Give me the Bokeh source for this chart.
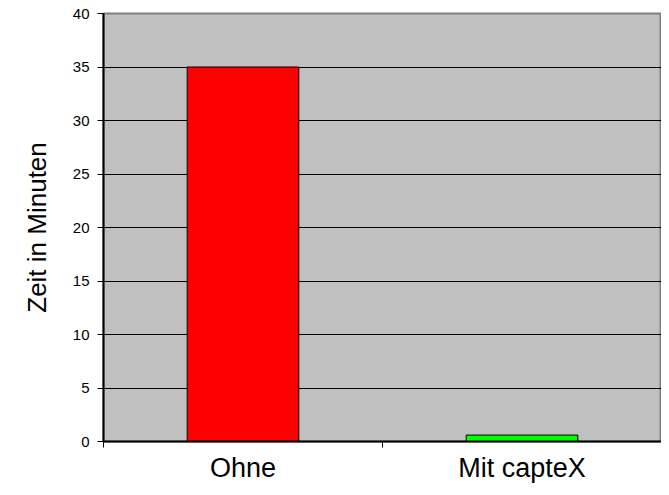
from bokeh.plotting import figure
from bokeh.models import ColumnDataSource, FixedTicker, Range1d
from bokeh.embed import file_html
from bokeh.resources import INLINE

categories = ["Ohne", "Mit capteX"]
minutes = [35, 0.6]
colors = ["#FF0000", "#00FF00"]
y_ticks = [0, 5, 10, 15, 20, 25, 30, 35, 40]

xs = [i + 0.5 for i in range(len(categories))]
src = ColumnDataSource(dict(x=xs, top=minutes, color=colors))

p = figure(width=661, height=487, output_backend="svg", toolbar_location=None,
           x_range=Range1d(0, len(categories)), y_range=Range1d(0, 40),
           min_border_left=103, min_border_top=13, min_border_bottom=46, min_border_right=0)
p.background_fill_color = "#C0C0C0"
p.outline_line_color = "#808080"
p.outline_line_width = 2

p.vbar(x="x", top="top", bottom=0, width=0.4, fill_color="color",
       line_color="black", line_width=1, source=src)

p.xgrid.visible = False
p.ygrid.ticker = FixedTicker(ticks=y_ticks[1:-1])
p.ygrid.grid_line_color = "black"
p.ygrid.grid_line_width = 1

xa = p.xaxis[0]
xa.ticker = FixedTicker(ticks=xs, minor_ticks=[0, 1, 2])
xa.major_label_overrides = {x: c for x, c in zip(xs, categories)}
xa.major_tick_line_color = None
xa.major_tick_out = 6
xa.minor_tick_line_color = "black"
xa.minor_tick_out = 6
xa.minor_tick_in = 0
xa.axis_line_color = "black"
xa.axis_line_width = 2
xa.major_label_text_font = "Liberation Sans"
xa.major_label_text_font_size = "27px"
xa.major_label_text_color = "black"
xa.major_label_standoff = 5

ya = p.yaxis[0]
ya.ticker = FixedTicker(ticks=y_ticks)
ya.minor_tick_line_color = None
ya.major_tick_out = 6
ya.major_tick_in = 0
ya.major_tick_line_color = "black"
ya.axis_line_color = "black"
ya.axis_line_width = 2
ya.major_label_text_font = "Liberation Sans"
ya.major_label_text_font_size = "15px"
ya.major_label_text_color = "black"
ya.major_label_standoff = 8
ya.axis_label = "Zeit in Minuten"
ya.axis_label_text_font = "Liberation Sans"
ya.axis_label_text_font_size = "26px"
ya.axis_label_text_font_style = "normal"
ya.axis_label_text_color = "black"
ya.axis_label_standoff = 18

open("out.html", "w").write(file_html(p, INLINE))
